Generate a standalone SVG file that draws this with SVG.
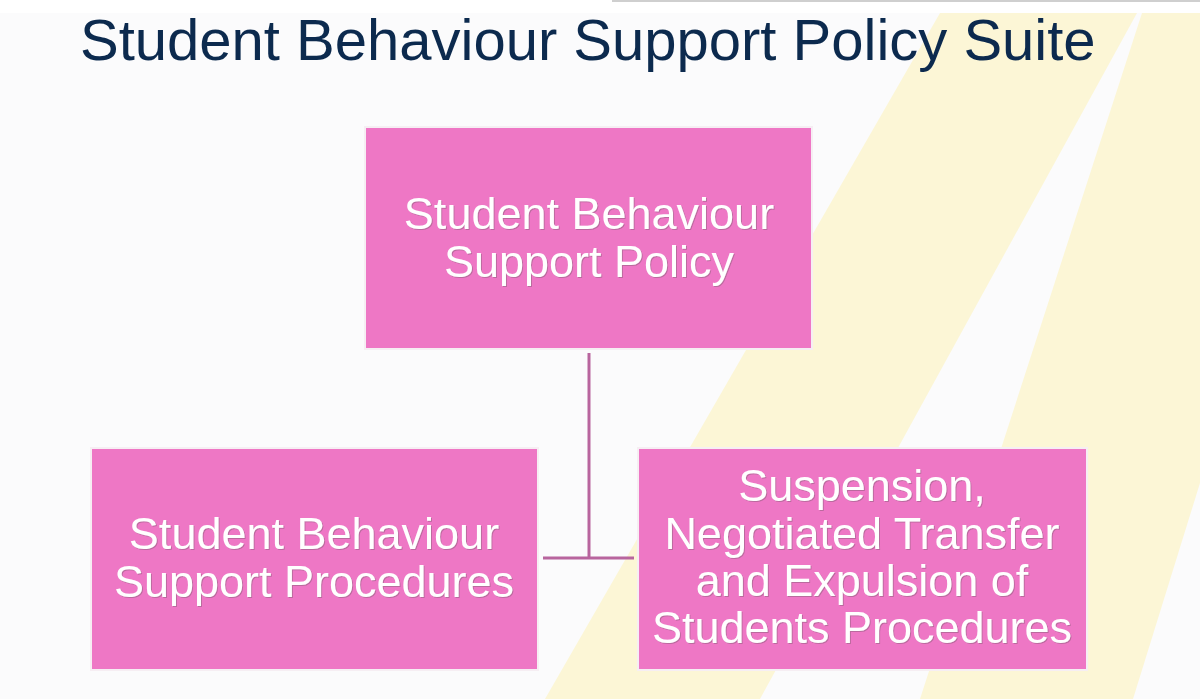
<svg xmlns="http://www.w3.org/2000/svg" width="1200" height="699" viewBox="0 0 1200 699">
  <defs>
    <style>
      .box { fill: #EE77C5; stroke: #F6EEF3; stroke-width: 2; }
      .lbl { font-family: "Liberation Sans", Arial, sans-serif; font-size: 45px; fill: #FFFFFF; text-anchor: middle; filter: url(#ts); }
      .title { font-family: "Liberation Sans", Arial, sans-serif; font-size: 58px; fill: #0C2A4E; }
      .conn { stroke: #B8659E; stroke-width: 3; fill: none; }
      .band { fill: #FCF6D6; }
    </style>
    <filter id="ts" x="-5%" y="-20%" width="110%" height="140%">
      <feDropShadow dx="1" dy="1" stdDeviation="0.6" flood-color="#7a5a70" flood-opacity="0.45"/>
    </filter>
  </defs>

  <!-- background -->
  <rect x="0" y="0" width="1200" height="699" fill="#FBFBFC"/>
  <rect x="0" y="0" width="1200" height="13" fill="#FFFFFF"/>
  <rect x="612" y="0" width="588" height="2" fill="#CFCFCF"/>
  <polygon class="band" points="940,13 1137,13 760,699 545,699"/>
  <polygon class="band" points="1142,13 1200,13 1200,483 1133,699 920,699"/>

  <text class="title" x="80" y="60">Student Behaviour Support Policy Suite</text>

  <g id="connectors">
    <line class="conn" x1="589" y1="353" x2="589" y2="558"/>
    <line class="conn" x1="543" y1="558" x2="634" y2="558"/>
  </g>

  <g id="node-policy">
    <rect class="box" x="365" y="127" width="447" height="222"/>
    <text class="lbl" x="589" y="229">Student Behaviour</text>
    <text class="lbl" x="589" y="277">Support Policy</text>
  </g>

  <g id="node-procedures">
    <rect class="box" x="91" y="448" width="447" height="222"/>
    <text class="lbl" x="314" y="549">Student Behaviour</text>
    <text class="lbl" x="314" y="597">Support Procedures</text>
  </g>

  <g id="node-suspension">
    <rect class="box" x="638" y="448" width="449" height="222"/>
    <text class="lbl" x="862" y="501">Suspension,</text>
    <text class="lbl" x="862" y="549">Negotiated Transfer</text>
    <text class="lbl" x="862" y="596">and Expulsion of</text>
    <text class="lbl" x="862" y="643">Students Procedures</text>
  </g>
</svg>
